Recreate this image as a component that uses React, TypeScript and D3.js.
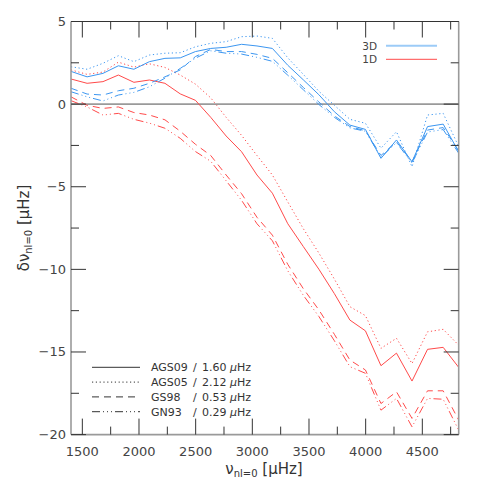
import React from "react";
import * as d3 from "d3";

// radial-mode frequencies (μHz)
const freqs = [1400, 1542, 1682, 1818, 1955, 2092, 2229, 2364, 2498, 2633, 2769, 2905, 3041, 3177, 3313, 3450, 3587, 3724, 3861, 3998, 4135, 4272, 4409, 4546, 4684, 4821];

// 3D models
const d3AGS09 = [1.98, 1.65, 1.86, 2.32, 2.11, 2.57, 2.77, 2.8, 3.18, 3.37, 3.44, 3.62, 3.52, 3.37, 2.35, 1.47, 0.57, -0.46, -1.27, -1.53, -3.28, -2.17, -3.49, -1.36, -1.21, -2.88];
const d3AGS05 = [2.26, 2.11, 2.47, 2.93, 2.57, 2.97, 3.08, 3.11, 3.47, 3.68, 3.78, 4.08, 4.12, 3.98, 2.8, 1.8, 0.78, -0.07, -0.92, -1.16, -2.67, -1.67, -3.79, -0.66, -0.56, -2.57];
const d3GS98 = [0.96, 0.61, 0.55, 0.81, 0.96, 1.26, 1.65, 2.07, 2.88, 3.31, 3.18, 3.18, 3.01, 2.77, 1.9, 1.01, 0.13, -0.71, -1.36, -1.61, -3.11, -2.28, -3.49, -1.57, -1.42, -2.82];
const d3GN93 = [0.75, 0.44, 0.19, 0.55, 0.71, 1.05, 1.57, 2.16, 2.78, 3.23, 3.08, 3.03, 2.83, 2.59, 1.75, 0.87, -0.02, -0.8, -1.44, -1.64, -3.21, -2.33, -3.56, -1.69, -1.54, -2.97];

// 1D models
const d1AGS09 = [1.52, 1.26, 1.36, 1.76, 1.32, 1.46, 1.26, 0.62, 0.23, -0.8, -1.93, -2.88, -4.29, -5.39, -7.24, -8.62, -9.99, -11.47, -13.07, -13.72, -15.83, -15.07, -16.76, -14.84, -14.72, -15.93];
const d1AGS05 = [2.07, 1.8, 1.94, 2.54, 2.24, 2.44, 2.22, 1.76, 1.21, 0.38, -0.8, -1.89, -3.11, -4.29, -5.92, -7.54, -9.01, -10.59, -12.26, -12.8, -14.78, -14.17, -15.7, -13.78, -13.63, -14.59];
const d1GS98 = [0.44, -0.07, -0.26, -0.17, -0.51, -0.66, -0.95, -1.64, -2.43, -3.11, -4.29, -5.42, -6.85, -7.93, -9.7, -11.17, -12.45, -13.93, -15.49, -16.09, -18.12, -17.41, -19.02, -17.35, -17.35, -19.12];
const d1GN93 = [0.21, -0.17, -0.66, -0.56, -0.92, -1.15, -1.46, -2.07, -2.87, -3.46, -4.64, -5.82, -7.24, -8.27, -10.09, -11.57, -12.85, -14.32, -15.89, -16.29, -18.52, -17.81, -19.53, -17.81, -17.86, -19.73];

const mixNames = ["AGS09", "AGS05", "GS98", "GN93"];
const mixValues = ["1.60", "2.12", "0.53", "0.29"];
const xMajorTicks = [1500, 2000, 2500, 3000, 3500, 4000, 4500];
const xMinorTicks = [1750, 2250, 2750, 3250, 3750, 4250, 4750];
const yMajorTicks = [5, 0, -5, -10, -15, -20];
const yMinorTicks = [2.5, -2.5, -7.5, -12.5, -17.5];

const BLUE = "#3c96f0";
const RED = "#ff4a4a";
const DASHES = [null, "1.2,2.6", "7,5", "8,3,1,3,1,3,1,3"];

const L = 71, R = 458.7, T = 21.5, B = 434.6;

export default function App() {
  const x = d3.scaleLinear().domain([1400, 4821]).range([L, R]);
  const y = d3.scaleLinear().domain([-20, 5]).range([B, T]);
  const line = d3.line<number>().x((_, i) => x(freqs[i])).y((d) => y(d));

  const series = [
    { v: d1AGS09, c: RED, s: 0 },
    { v: d1AGS05, c: RED, s: 1 },
    { v: d1GS98, c: RED, s: 2 },
    { v: d1GN93, c: RED, s: 3 },
    { v: d3AGS09, c: BLUE, s: 0 },
    { v: d3AGS05, c: BLUE, s: 1 },
    { v: d3GS98, c: BLUE, s: 2 },
    { v: d3GN93, c: BLUE, s: 3 },
  ];

  const font = "DejaVu Sans, sans-serif";
  const tickCol = "#333";
  const axisCol = "#9a9a9a";

  return (
    <svg width={480} height={480} style={{ position: "absolute", left: 0, top: 0, background: "#fff" }} fontFamily={font}>
      <defs>
        <clipPath id="plotclip">
          <rect x={L} y={T} width={R - L} height={B - T} />
        </clipPath>
      </defs>
      {/* zero line */}
      <line x1={L} x2={R} y1={y(0)} y2={y(0)} stroke={axisCol} strokeWidth={1.6} />
      <g clipPath="url(#plotclip)">
        {series.map((s, i) => (
          <path key={i} d={line(s.v) || ""} fill="none" stroke={s.c} strokeWidth={1}
            strokeDasharray={DASHES[s.s] || undefined} />
        ))}
      </g>
      {/* frame */}
      <line x1={L} x2={L} y1={T} y2={B} stroke={axisCol} strokeWidth={1.6} />
      <line x1={R} x2={R} y1={T} y2={B} stroke={axisCol} strokeWidth={1.6} />
      <line x1={L} x2={R} y1={B} y2={B} stroke={axisCol} strokeWidth={1.6} />
      <line x1={L} x2={R} y1={T} y2={T} stroke={tickCol} strokeWidth={1} />
      {/* x ticks */}
      {xMajorTicks.map((t) => (
        <g key={"xM" + t}>
          <line x1={x(t)} x2={x(t)} y1={B} y2={B - 16} stroke={tickCol} strokeWidth={1} />
          <line x1={x(t)} x2={x(t)} y1={T} y2={T + 16} stroke={tickCol} strokeWidth={1} />
          <text x={x(t)} y={456} textAnchor="middle" fontSize={13} fill="#444">{t}</text>
        </g>
      ))}
      {xMinorTicks.map((t) => (
        <g key={"xm" + t}>
          <line x1={x(t)} x2={x(t)} y1={B} y2={B - 8} stroke={tickCol} strokeWidth={1} />
          <line x1={x(t)} x2={x(t)} y1={T} y2={T + 8} stroke={tickCol} strokeWidth={1} />
        </g>
      ))}
      {/* y ticks */}
      {yMajorTicks.map((t) => (
        <g key={"yM" + t}>
          <line x1={L} x2={L + 15} y1={y(t)} y2={y(t)} stroke={tickCol} strokeWidth={1} />
          <line x1={R} x2={R - 15} y1={y(t)} y2={y(t)} stroke={tickCol} strokeWidth={1} />
          <text x={66} y={y(t) + 4.5} textAnchor="end" fontSize={13} fill="#444">{t < 0 ? "\u2212" + Math.abs(t) : t}</text>
        </g>
      ))}
      {yMinorTicks.map((t) => (
        <g key={"ym" + t}>
          <line x1={L} x2={L + 8} y1={y(t)} y2={y(t)} stroke={tickCol} strokeWidth={1} />
          <line x1={R} x2={R - 8} y1={y(t)} y2={y(t)} stroke={tickCol} strokeWidth={1} />
        </g>
      ))}
      {/* axis labels */}
      <text x={264} y={474} textAnchor="middle" fontSize={15} fill="#333">
        ν<tspan fontSize={10} dy={3}>nl=0</tspan><tspan dy={-3}>{"  [μHz]"}</tspan>
      </text>
      <text transform="translate(29,228) rotate(-90)" textAnchor="middle" fontSize={15} fill="#333">
        δν<tspan fontSize={10} dy={3}>nl=0</tspan><tspan dy={-3}>{"  [μHz]"}</tspan>
      </text>
      {/* top-right legend */}
      <text x={377} y={49.5} textAnchor="end" fontSize={10.5} fill="#444">3D</text>
      <line x1={386} x2={437} y1={45.7} y2={45.7} stroke="#9ccbf7" strokeWidth={2} />
      <text x={377} y={63} textAnchor="end" fontSize={10.5} fill="#444">1D</text>
      <line x1={386} x2={437} y1={59.3} y2={59.3} stroke={RED} strokeWidth={1} />
      {/* bottom-left legend */}
      {mixNames.map((n, i) => {
        const ly = 367.3 + i * 14.8;
        return (
          <g key={n}>
            <line x1={92} x2={140} y1={ly} y2={ly} stroke="#333" strokeWidth={1}
              strokeDasharray={DASHES[i] || undefined} />
            <text x={151} y={ly + 4} fontSize={11} fill="#333">{n}</text>
            <text x={193} y={ly + 4} fontSize={11} fill="#333">/</text>
            <text x={202} y={ly + 4} fontSize={11} fill="#333">{mixValues[i] + " "}<tspan fontStyle="italic">μ</tspan>Hz</text>
          </g>
        );
      })}
    </svg>
  );
}
